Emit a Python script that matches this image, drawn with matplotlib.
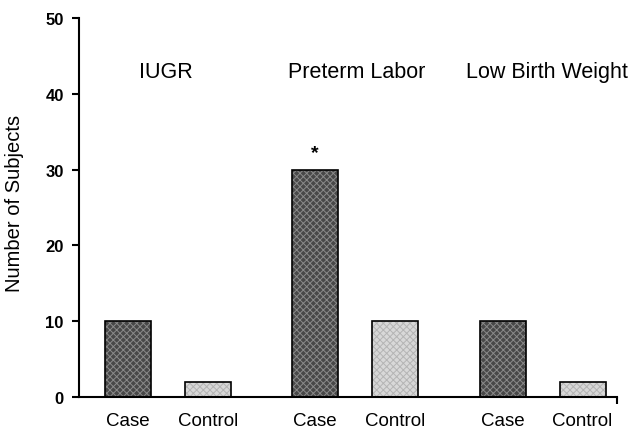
import matplotlib
matplotlib.use("Agg")
import matplotlib.pyplot as plt
import numpy as np

plt.rcParams['font.family'] = ['Liberation Sans', 'DejaVu Sans']
plt.rcParams['hatch.linewidth'] = 0.7

groups = ["IUGR", "Preterm Labor", "Low Birth Weight"]
series = ["Case", "Control"]
case_vals = [10, 30, 10]
control_vals = [2, 10, 2]
yticks = [0, 10, 20, 30, 40, 50]

fig = plt.figure(figsize=(6.33, 4.31), dpi=100)
ax = fig.add_axes([0.1248, 0.0766, 0.9747 - 0.1248, 0.956 - 0.0766])

step = 2.34
gx = np.arange(len(groups)) * step
w = 0.575
# textured fills
ax.bar(gx, case_vals, width=w, color='#484848', edgecolor='#8a8a8a', linewidth=0,
       hatch='xxxxx', zorder=2)
ax.bar(gx + 1, control_vals, width=w, color='#d8d8d8', edgecolor='#b4b4b4', linewidth=0,
       hatch='xxxxx', zorder=2)
# outlines
ax.bar(gx, case_vals, width=w, fill=False, edgecolor='black', linewidth=1.2, zorder=3)
ax.bar(gx + 1, control_vals, width=w, fill=False, edgecolor='black', linewidth=1.2, zorder=3)

ax.set_xlim(-0.6125, 6.11)
ax.set_ylim(0, 50)
ax.set_yticks(yticks)
ax.set_yticklabels([str(t) for t in yticks], fontweight='bold', fontsize=12)
ax.tick_params(axis='y', direction='out', length=5, width=1.5, pad=6)
ax.set_xticks([6.11])
ax.set_xticklabels([''])
ax.tick_params(axis='x', direction='out', length=5, width=1.5)
for s in ['top', 'right']:
    ax.spines[s].set_visible(False)
ax.spines['left'].set_linewidth(1.5)
ax.spines['bottom'].set_linewidth(1.5)
ax.set_ylabel("Number of Subjects", fontsize=14.5)
ax.yaxis.set_label_coords(-0.102, 0.514)

trans = ax.get_xaxis_transform()
for i, g in enumerate(groups):
    ax.text(gx[i], -0.062, series[0], transform=trans, ha='center', va='center', fontsize=13.5)
    ax.text(gx[i] + 1, -0.062, series[1], transform=trans, ha='center', va='center', fontsize=13.5)
offs = [0.47, 0.52, 0.55]
for i, g in enumerate(groups):
    ax.text(gx[i] + offs[i], 43, g, ha='center', va='center', fontsize=15.5)

ax.text(gx[1], 32.3, "*", ha='center', va='center', fontsize=14, fontweight='bold')

fig.savefig("out.png", dpi=100)
